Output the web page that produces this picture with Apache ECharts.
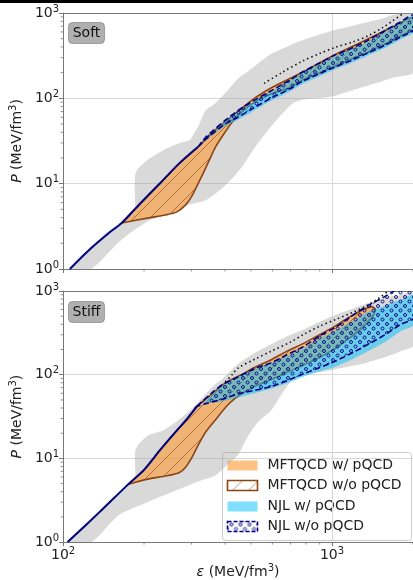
<!DOCTYPE html>
<html><head><meta charset="utf-8">
<script src="https://cdn.jsdelivr.net/npm/echarts@6/dist/echarts.min.js"></script>
<style>html,body{margin:0;padding:0;background:#fff}#c{width:413px;height:580px}</style>
</head><body><div id="c"></div>
<script>
// ---------------- DATA (epsilon in MeV/fm^3, P in MeV/fm^3) ----------------
// Soft panel
const softCrust = [[106,1.0],[125,1.67],[148,2.64],[165,3.45],[194,5.9],[230,10.2],[271,17.4],[317,26.9]];
const softGrayUpper = [[106,1.05],[125,1.75],[148,2.8],[165,3.6],[180,4.3],[185,4.5],[186,13.3],[206,18.9],[237,24.8],[271,29.9],[295,32.4],[317,46],[339,72],[369,88],[410,125],[447,170],[500,220],[592,330],[700,420],[780,482],[900,560],[1026,632],[1200,710],[1360,784],[1550,870],[1688,947],[2030,1030]];
const softGrayLower = [[106,1.0],[127,1.0],[165,2.2],[211,3.74],[250,4.4],[290,5.6],[339,6.4],[391,8.9],[430,12],[462,15.7],[514,26],[570,40],[623,56],[670,72],[717,88],[780,96],[898,101],[1000,105],[1200,125],[1450,150],[1700,175],[2030,205]];
const softOrangeUpper = [[165,3.45],[194,5.9],[230,10.2],[271,17.4],[317,26.9],[369,43],[430,64],[514,100],[600,135],[700,172],[800,212],[900,262],[1026,325],[1200,410],[1400,520],[1700,700],[2030,900]];
const softOrangeLower = [[165,3.45],[206,3.95],[240,4.3],[264,4.64],[285,5.6],[300,7.0],[315,9.5],[331,13],[350,19],[369,27],[400,40],[430,55],[501,85],[592,112],[700,135],[780,165],[900,200],[1026,240],[1200,295],[1360,350],[1600,445],[1789,535],[2030,670]];
const softNjlUpper = [[317,26.9],[339,35],[400,55],[447,72],[514,95],[592,122],[700,165],[780,205],[900,260],[1026,322],[1200,395],[1360,480],[1600,640],[1789,780],[2030,960]];
const softNjlLower = [[317,26.9],[339,33],[400,50],[447,60],[514,78],[592,100],[700,130],[780,160],[900,195],[1026,233],[1200,285],[1360,340],[1600,430],[1789,520],[2030,650]];
const softCyanUpper = [[330,30],[400,54],[447,70],[514,93],[592,120],[700,162],[780,200],[900,252],[1026,312],[1200,385],[1360,465],[1600,620],[1789,760],[2030,940]];
const softCyanLower = [[330,30],[400,47],[447,56],[514,72],[592,93],[700,121],[780,148],[900,182],[1026,218],[1200,266],[1360,318],[1600,400],[1789,485],[2030,610]];
const softDotted = [[559,150],[650,200],[780,275],[900,335],[1026,395],[1200,460],[1360,540],[1550,680],[1700,830],[1850,1000]];
// Stiff panel
const stiffCrust = [[104,1.0],[136,2.25],[175,4.93],[200,7.3],[230,12.7],[264,21.3],[290,30],[315,42]];
const stiffGrayUpper = [[104,1.05],[136,2.35],[160,3.8],[175,5.0],[185,5.8],[186,12.7],[206,18.6],[237,21.8],[280,31.9],[312,44],[339,59],[369,78],[391,89],[447,134],[520,185],[592,230],[700,300],[780,345],[900,430],[1026,518],[1200,620],[1360,717],[1600,850],[1789,890],[2030,990]];
const stiffGrayLower = [[104,1.0],[127,1.0],[161,2.1],[206,3.0],[271,4.3],[312,5.2],[369,6.3],[410,8.5],[447,11],[485,18],[530,27],[592,37],[644,56],[710,86],[800,100],[1000,114],[1300,135],[1600,165],[1800,190],[2030,230]];
const stiffOrangeUpper = [[175,4.93],[200,7.3],[230,12.7],[264,21.3],[290,30],[315,42],[360,60],[401,80],[460,100],[514,122],[592,150],[677,190],[780,235],[898,300],[1026,380],[1114,450],[1250,560],[1400,650]];
const stiffOrangeLower = [[175,4.93],[206,5.65],[243,6.2],[271,6.8],[285,7.8],[300,10],[320,15],[340,21],[369,29],[400,40],[436,52],[514,72],[607,90],[717,115],[800,135],[898,160],[1000,195],[1100,240],[1250,330],[1400,470],[1450,600]];
const stiffNjlUpper = [[315,42],[360,62],[391,76],[447,94],[514,118],[592,138],[677,172],[780,215],[898,290],[1026,365],[1180,500],[1360,670],[1553,840],[1700,1000],[2030,1300]];
const stiffNjlLower = [[315,42],[339,45],[400,52],[447,59],[514,65],[592,72],[700,88],[780,102],[900,122],[1026,145],[1200,185],[1360,230],[1600,310],[1789,395],[2030,490]];
const stiffCyanUpper = [[330,45],[391,74],[514,115],[677,165],[780,205],[898,270],[1026,335],[1200,440],[1360,560],[1600,680],[1789,780],[2030,900]];
const stiffCyanLower = [[330,45],[400,49],[514,60],[592,68],[700,82],[780,94],[900,110],[1026,124],[1200,155],[1360,190],[1600,255],[1789,327],[2030,405]];
const stiffDotted = [[401,82],[425,100],[447,120],[520,155],[592,190],[700,245],[780,300],[900,380],[1026,453],[1200,560],[1360,679],[1500,830],[1620,1000]];
// axes
const xRange = [100, 2000];
const yRange = [1, 1000];
const xMinorTicks = [200,300,400,500,600,700,800,900,2000];
const yMinorTicks = [2,3,4,5,6,7,8,9,20,30,40,50,60,70,80,90,200,300,400,500,600,700,800,900];
const panelLabels = ['Soft', 'Stiff'];
const legendLabels = ['MFTQCD w/ pQCD', 'MFTQCD w/o pQCD', 'NJL w/ pQCD', 'NJL w/o pQCD'];

// ---------------- STYLE ----------------
const FONT = 'DejaVu Sans';
const ORANGE = 'rgba(255,153,51,0.6)';
const CYAN = 'rgba(0,191,255,0.5)';
const GRAY = 'rgba(160,160,160,0.4)';
const BROWN = '#8b4513';
const NAVY = '#000080';
const SPINE = '#777';
const GRID = '#d8d8d8';

const chart = echarts.init(document.getElementById('c'), null, {renderer: 'canvas'});

function hatchSlash() {
  const s = 16, c = document.createElement('canvas'); c.width = s; c.height = s;
  const g = c.getContext('2d'); g.strokeStyle = 'rgba(139,69,19,0.75)'; g.lineWidth = 0.8;
  g.beginPath();
  for (const o of [-s, 0, s]) { g.moveTo(o, s); g.lineTo(o + s, 0); }
  g.stroke(); return c;
}
function hatchCircles() {
  const s = 9, c = document.createElement('canvas'); c.width = s; c.height = s;
  const g = c.getContext('2d'); g.strokeStyle = NAVY; g.lineWidth = 0.9;
  const pts = [[0,0],[s,0],[0,s],[s,s],[s/2,s/2]];
  for (const p of pts) { g.beginPath(); g.arc(p[0], p[1], 1.5, 0, Math.PI*2); g.stroke(); }
  return c;
}
const SLASH = {image: hatchSlash(), repeat: 'repeat'};
const CIRC = {image: hatchCircles(), repeat: 'repeat'};

function band(pi, upper, lower, style, z) {
  return {
    type: 'custom', xAxisIndex: pi*2, yAxisIndex: pi, clip: true, z: z, silent: true,
    data: [[upper[0][0], upper[0][1]]],
    renderItem: function (params, api) {
      const pts = upper.map(p => api.coord(p)).concat(lower.slice().reverse().map(p => api.coord(p)));
      return {type: 'polygon', shape: {points: pts, smooth: 0.25}, style: style};
    }
  };
}
function line(pi, data, color, width, type, z) {
  return {type: 'line', xAxisIndex: pi*2, yAxisIndex: pi, data: data, showSymbol: false, smooth: 0.3,
    lineStyle: {color: color, width: width, type: type}, z: z, silent: true, animation: false};
}
function minorTicks(pi) {
  return {
    type: 'custom', xAxisIndex: pi*2, yAxisIndex: pi, clip: false, z: 20, silent: true,
    data: [[100, 1]],
    renderItem: function (params, api) {
      const ch = [];
      for (const v of yMinorTicks) { const p = api.coord([xRange[0], v]);
        ch.push({type:'line', shape:{x1:p[0]-2.5, y1:p[1], x2:p[0], y2:p[1]}, style:{stroke:SPINE, lineWidth:0.8}}); }
      for (const v of xMinorTicks) { const p = api.coord([v, yRange[0]]);
        ch.push({type:'line', shape:{x1:p[0], y1:p[1], x2:p[0], y2:p[1]+2.5}, style:{stroke:SPINE, lineWidth:0.8}}); }
      return {type:'group', children: ch};
    }
  };
}

function pow10Label(v) {
  const e = Math.round(Math.log10(v));
  if (Math.abs(Math.pow(10, e) - v) > 1e-6 * v) return '';
  return '{b|10}{s|' + e + '}';
}
const richSup = {b: {fontSize: 14, fontFamily: FONT, color: '#222'}, s: {fontSize: 10, fontFamily: FONT, color: '#222', padding: [0,0,8,0]}};

const grids = [{left: 53, top: 13, right: 0, height: 256}, {left: 53, top: 291, right: 0, height: 255}];
const xAxes = [], yAxes = [];
for (let i = 0; i < 2; i++) {
  xAxes.push({gridIndex: i, type: 'log', logBase: 10, min: xRange[0], max: xRange[1],
    axisLine: {lineStyle: {color: SPINE, width: 1}},
    axisTick: {show: true, length: 4, lineStyle: {color: SPINE}},
    axisLabel: {show: i === 1, formatter: pow10Label, rich: richSup, margin: 4, showMinLabel: true, showMaxLabel: false},
    splitLine: {show: true, lineStyle: {color: GRID, width: 1}},
    name: i === 1 ? '{i|ε} (MeV/fm{s|3})' : '', nameLocation: 'middle', nameGap: 19,
    nameTextStyle: {fontSize: 14, fontFamily: FONT, color: '#222', rich: {i: {fontStyle: 'italic', fontSize: 14, fontFamily: FONT}, s: {fontSize: 10, fontFamily: FONT, padding: [0,0,8,0]}}}
  });
  xAxes.push({gridIndex: i, type: 'log', logBase: 10, min: xRange[0], max: xRange[1], position: 'top',
    axisLine: {show: true, lineStyle: {color: SPINE, width: 1}}, axisTick: {show: false}, axisLabel: {show: false}, splitLine: {show: false}});
  yAxes.push({gridIndex: i, type: 'log', logBase: 10, min: yRange[0], max: yRange[1],
    axisLine: {show: true, lineStyle: {color: SPINE, width: 1}},
    axisTick: {show: true, length: 4, lineStyle: {color: SPINE}},
    axisLabel: {formatter: pow10Label, rich: richSup, margin: 4},
    splitLine: {show: true, lineStyle: {color: GRID, width: 1}},
    name: '{i|P} (MeV/fm{s|3})', nameLocation: 'middle', nameGap: 30,
    nameTextStyle: {fontSize: 14, fontFamily: FONT, color: '#222', rich: {i: {fontStyle: 'italic', fontSize: 14, fontFamily: FONT}, s: {fontSize: 10, fontFamily: FONT, padding: [0,0,8,0]}}}
  });
}

const panels = [
  {crust: softCrust, gu: softGrayUpper, gl: softGrayLower, ou: softOrangeUpper, ol: softOrangeLower, nu: softNjlUpper, nl: softNjlLower, cu: softCyanUpper, cl: softCyanLower, dot: softDotted},
  {crust: stiffCrust, gu: stiffGrayUpper, gl: stiffGrayLower, ou: stiffOrangeUpper, ol: stiffOrangeLower, nu: stiffNjlUpper, nl: stiffNjlLower, cu: stiffCyanUpper, cl: stiffCyanLower, dot: stiffDotted}
];
const series = [];
panels.forEach((P, i) => {
  series.push(band(i, P.gu, P.gl, {fill: GRAY}, 1));
  series.push(band(i, P.ou, P.ol, {fill: ORANGE}, 3));
  series.push(band(i, P.ou, P.ol, {fill: SLASH, stroke: BROWN, lineWidth: 1.6}, 4));
  series.push(band(i, P.cu, P.cl, {fill: CYAN}, 5));
  series.push(band(i, P.nu, P.nl, {fill: CIRC, stroke: NAVY, lineWidth: 1.6, lineDash: [6, 3]}, 6));
  series.push(line(i, P.crust, NAVY, 2, 'solid', 7));
  series.push(line(i, P.dot, '#111', 1.6, [1.5, 3], 8));
  series.push(minorTicks(i));
});

const legendY = [465, 485, 506, 526];
const swatchStyles = [
  {fill: ORANGE},
  {fill: SLASH, stroke: BROWN, lineWidth: 1.6},
  {fill: CYAN},
  {fill: CIRC, stroke: NAVY, lineWidth: 1.6, lineDash: [4, 2]}
];
const graphics = [
  {type: 'rect', left: 0, top: 0, shape: {width: 413, height: 3}, style: {fill: '#000'}, z: 100}
];
panelLabels.forEach((t, i) => {
  graphics.push({type: 'group', left: 68, top: i === 0 ? 22 : 301, z: 100, children: [
    {type: 'rect', shape: {x: 0, y: 0, width: 36, height: 21, r: 4}, style: {fill: 'rgba(150,150,150,0.75)', stroke: 'rgba(120,120,120,0.6)', lineWidth: 1}},
    {type: 'text', x: 18, y: 10.5, style: {text: t, font: '14px "DejaVu Sans"', fill: '#111', textAlign: 'center', textVerticalAlign: 'middle'}}
  ]});
});
const legChildren = [{type: 'rect', shape: {x: 0, y: 0, width: 189, height: 88, r: 3}, style: {fill: 'rgba(255,255,255,0.85)', stroke: '#cccccc', lineWidth: 1}}];
legendLabels.forEach((t, k) => {
  const cy = legendY[k] - 452;
  legChildren.push({type: 'rect', shape: {x: 5, y: cy - 5, width: 30, height: 10}, style: swatchStyles[k]});
  legChildren.push({type: 'text', x: 45, y: cy, style: {text: t, font: '14px "DejaVu Sans"', fill: '#222', textVerticalAlign: 'middle'}});
});
graphics.push({type: 'group', left: 222, top: 452, z: 100, children: legChildren});

chart.setOption({
  animation: false,
  backgroundColor: '#fff',
  grid: grids, xAxis: xAxes, yAxis: yAxes, series: series, graphic: graphics
});
</script>
</body></html>
